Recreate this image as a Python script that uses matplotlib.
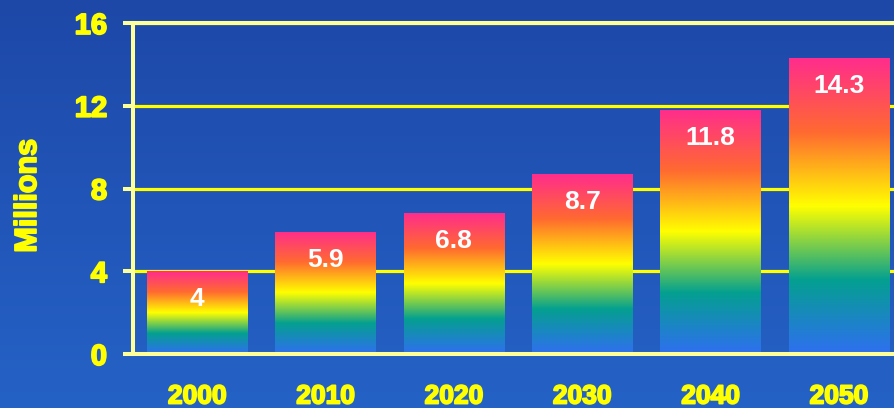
import numpy as np
import matplotlib
matplotlib.use('Agg')
import matplotlib.pyplot as plt
import matplotlib.patheffects as pe
from matplotlib.colors import LinearSegmentedColormap
from matplotlib import font_manager

years = ['2000', '2010', '2020', '2030', '2040', '2050']
millions = [4, 5.9, 6.8, 8.7, 11.8, 14.3]
value_labels = ['4', '5.9', '6.8', '8.7', '11.8', '14.3']
y_ticks = [0, 4, 8, 12, 16]

# heavy narrow face for the axis text if available
names = {f.name for f in font_manager.fontManager.ttflist}
narrow = 'Liberation Sans Narrow' if 'Liberation Sans Narrow' in names else 'Liberation Sans'

rainbow = LinearSegmentedColormap.from_list(
    'bar_rainbow',
    [(0.0, '#2f6ff0'), (0.25, '#04a090'), (0.5, '#ffff00'),
     (0.75, '#ff6a30'), (1.0, '#ff2d8c')])
backdrop = LinearSegmentedColormap.from_list('backdrop', ['#2562c6', '#1d48a8'])
thick = [pe.withStroke(linewidth=1.3, foreground='#ffff00')]

fig = plt.figure(figsize=(8.95, 4.08), dpi=100)

# blue backdrop, slightly darker at the top
bg_ax = fig.add_axes([0, 0, 1, 1], zorder=-1)
bg_ax.imshow(np.linspace(1, 0, 256).reshape(-1, 1), cmap=backdrop,
             aspect='auto', extent=[0, 1, 0, 1])
bg_ax.axis('off')

ax = fig.add_axes([133 / 895, 54 / 408, 770 / 895, 331 / 408])
ax.set_facecolor('none')

x = np.arange(len(years))
bars = ax.bar(x, millions, width=0.78, color='none', zorder=2)
grad = np.linspace(1, 0, 256).reshape(-1, 1)
for bar, h, lbl in zip(bars, millions, value_labels):
    x0 = bar.get_x()
    w = bar.get_width()
    im = ax.imshow(grad, cmap=rainbow, aspect='auto',
                   extent=[x0, x0 + w, 0, h], zorder=2)
    im.set_clip_path(bar)
    ax.annotate(lbl, (x0 + w / 2, h), xytext=(0, -20), textcoords='offset points',
                ha='center', va='center', color='white', fontsize=19,
                fontweight='bold', family='Liberation Sans', zorder=4)

ax.set_xlim(-0.5, 5.5)
ax.set_ylim(0, 16)
ax.set_xticks(x)
ax.set_xticklabels(years)
ax.set_yticks(y_ticks)

ax.yaxis.grid(True, color='#ffff00', lw=2.3)
ax.set_axisbelow(True)

for side in ['left', 'top', 'bottom']:
    ax.spines[side].set_color('#ffff99')
    ax.spines[side].set_linewidth(2.9)
    ax.spines[side].set_zorder(3)
ax.spines['right'].set_visible(False)

ax.tick_params(axis='y', length=7.2, width=2.9, color='#ffff99', pad=11.5,
               labelcolor='#ffff00', labelsize=21)
ax.tick_params(axis='x', length=0, pad=22, labelcolor='#ffff00', labelsize=19)
for t in ax.get_xticklabels() + ax.get_yticklabels():
    t.set_fontfamily(narrow)
    t.set_fontweight('bold')
    t.set_path_effects(thick)

fig.text(28 / 895, 1 - 196 / 408, 'Millions', rotation=90, ha='center',
         va='center', color='#ffff00', fontsize=22, fontweight='bold',
         family=narrow, path_effects=thick)

fig.savefig('out.png', dpi=100)
